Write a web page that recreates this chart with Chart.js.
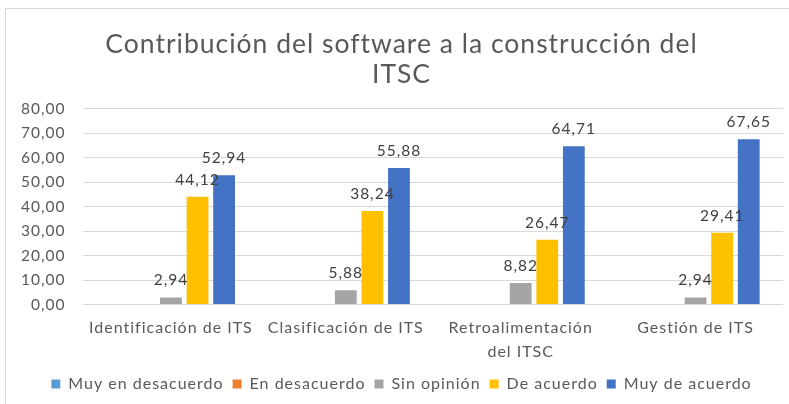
<!DOCTYPE html>
<html>
<head>
<meta charset="utf-8">
<script src="https://cdn.jsdelivr.net/npm/chart.js@4.4.1/dist/chart.umd.min.js"></script>
<style>
    body { margin: 0; background: #fff; overflow: hidden; }
    #frame { position: absolute; left: 5px; top: 8px; width: 800px; height: 420px; border: 1px solid #D9D9D9; }
    #wrap { position: absolute; left: 0; top: 0; width: 789px; height: 404px; overflow: hidden; }
</style>
</head>
<body>
<div id="frame"></div>
<div id="wrap"><canvas id="barcanvas" width="808" height="404"></canvas></div>
<script>
// ข้อมูลกราฟ
let categories = ['Identificación de ITS', 'Clasificación de ITS', ['Retroalimentación', 'del ITSC'], 'Gestión de ITS'];
let seriesNames = ['Muy en desacuerdo', 'En desacuerdo', 'Sin opinión', 'De acuerdo', 'Muy de acuerdo'];
let muyEnDesacuerdo = [0, 0, 0, 0];
let enDesacuerdo = [0, 0, 0, 0];
let sinOpinion = [2.94, 5.88, 8.82, 2.94];
let deAcuerdo = [44.12, 38.24, 26.47, 29.41];
let muyDeAcuerdo = [52.94, 55.88, 64.71, 67.65];
let seriesColors = ['#5B9BD5', '#ED7D31', '#A5A5A5', '#FFC000', '#4472C4'];

function fmt(v) {
    return v.toFixed(2).replace('.', ',');
}

// ระยะห่างตัวอักษร
const spacing = {
    id: 'spacing',
    afterInit(chart) { chart.ctx.letterSpacing = '1px'; },
    beforeUpdate(chart) { chart.ctx.letterSpacing = '1px'; },
    beforeDraw(chart) { chart.ctx.letterSpacing = '1px'; }
};

// วาดค่าบนแท่ง
const valueLabels = {
    id: 'valueLabels',
    afterDatasetsDraw(chart) {
        let ctx = chart.ctx;
        ctx.save();
        ctx.font = '15.5px Lato';
        ctx.fillStyle = '#404040';
        ctx.textAlign = 'center';
        ctx.textBaseline = 'alphabetic';
        chart.data.datasets.forEach(function(ds, i) {
            let meta = chart.getDatasetMeta(i);
            meta.data.forEach(function(bar, j) {
                if (ds.data[j] > 0) {
                    ctx.fillText(fmt(ds.data[j]), bar.x, bar.y - 12);
                }
            });
        });
        ctx.restore();
    }
};

let allSeries = [muyEnDesacuerdo, enDesacuerdo, sinOpinion, deAcuerdo, muyDeAcuerdo];
let datasets = [];
for (let i = 0; i < allSeries.length; i++) {
    datasets.push({
        label: seriesNames[i],
        data: allSeries[i],
        backgroundColor: seriesColors[i],
        categoryPercentage: 0.76,
        barPercentage: 0.82
    });
}

let barCanvas = document.getElementById('barcanvas').getContext('2d');
let barChart = new Chart(barCanvas, {
    type: 'bar',
    data: { labels: categories, datasets: datasets },
    options: {
        responsive: false,
        animation: false,
        layout: { padding: { left: 20, right: 25, top: 0, bottom: 2 } },
        scales: {
            x: {
                grid: { display: false },
                border: { display: false },
                ticks: { color: '#595959', font: { family: 'Lato', size: 16, lineHeight: 1.45 }, padding: 4, maxRotation: 0, autoSkip: false },
                afterFit: function(scale) {
                    scale.paddingLeft = 0;
                    scale.paddingRight = 0;
                }
            },
            y: {
                min: 0,
                max: 80,
                ticks: { stepSize: 10, color: '#595959', font: { family: 'Lato', size: 15.5 }, padding: 18, callback: function(v) { return fmt(v); } },
                grid: { color: '#D9D9D9', drawTicks: false },
                border: { display: false },
                afterFit: function(scale) {
                    scale.width -= 17;
                }
            }
        },
        plugins: {
            title: {
                display: true,
                text: ['Contribución del software a la construcción del', 'ITSC'],
                color: '#595959',
                font: { family: 'Lato', size: 26.5, weight: 'normal', lineHeight: 1.15 },
                padding: { top: 29, bottom: 19 }
            },
            legend: {
                position: 'bottom',
                labels: { color: '#595959', font: { family: 'Lato', size: 16, lineHeight: 1 }, boxWidth: 9, boxHeight: 9, padding: 9 }
            },
            tooltip: { enabled: false }
        }
    },
    plugins: [spacing, valueLabels]
});
</script>
</body>
</html>
